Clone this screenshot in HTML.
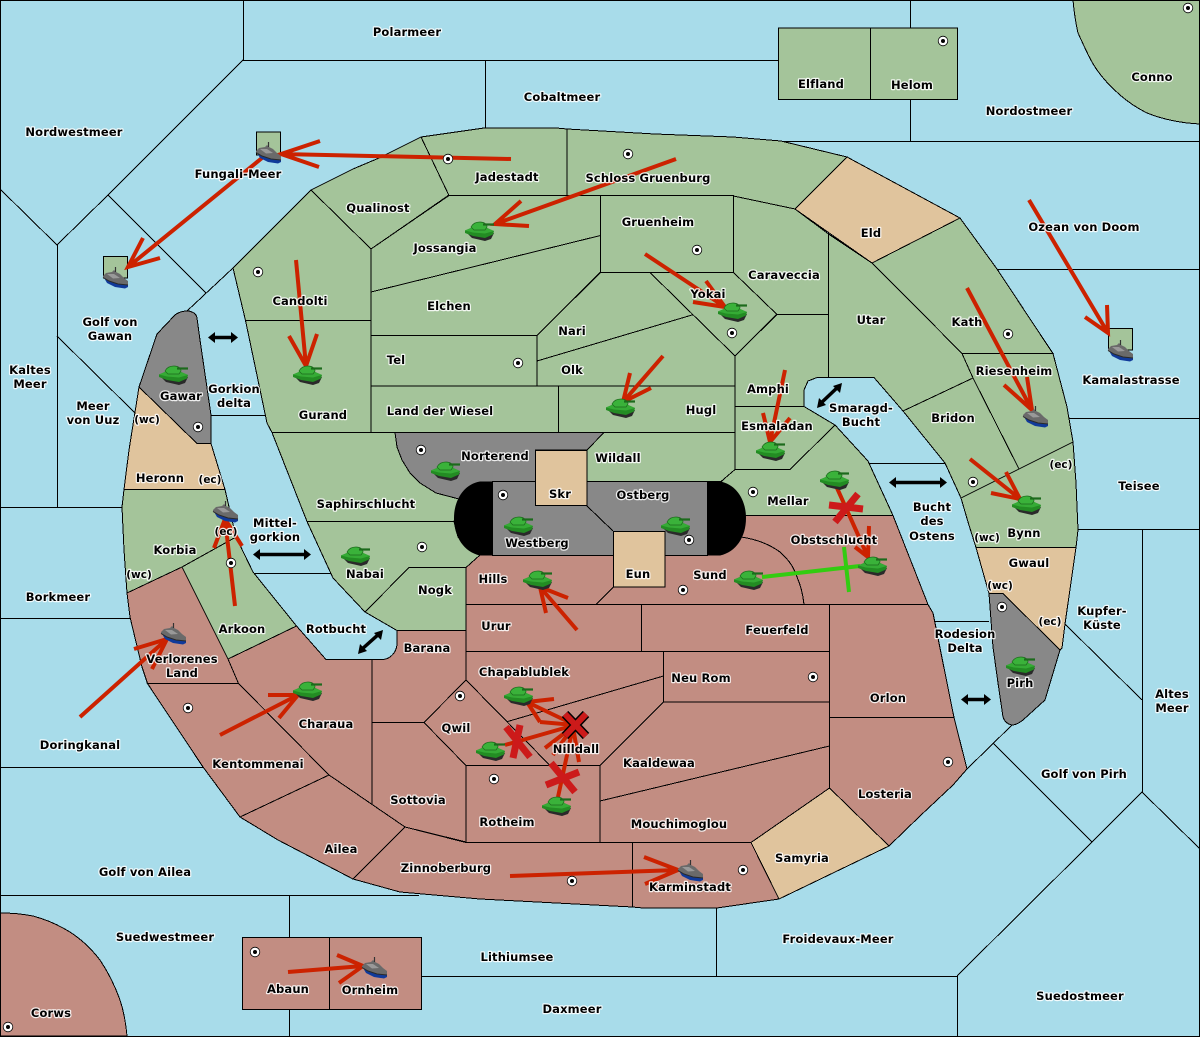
<!DOCTYPE html>
<html><head><meta charset="utf-8"><title>Map</title>
<style>
html,body{margin:0;padding:0;background:#a8dcea}
svg{display:block}
.m polygon,.m path.l{stroke:#000;stroke-width:1;shape-rendering:crispEdges}
.g{fill:#a4c49a}.r{fill:#c28d82}.t{fill:#e0c49d}.y{fill:#888888}
.s line,.s polyline{stroke:#000;stroke-width:1;fill:none;shape-rendering:crispEdges}
.a path{fill:none;stroke:#cc2200;stroke-width:4;stroke-linecap:butt;stroke-linejoin:miter}
.x path{fill:none;stroke:#cc1a1a;stroke-width:7}
.d path{fill:none;stroke:#000;stroke-width:3.5}
text{font-family:"DejaVu Sans","Liberation Sans",sans-serif;font-size:11.5px;fill:#000;text-anchor:middle;letter-spacing:.15px;stroke:#fff;stroke-opacity:.85;stroke-width:2.4px;paint-order:stroke;stroke-linejoin:round;font-weight:700}
text.k{font-size:10.5px;letter-spacing:0}
</style></head><body>
<svg width="1200" height="1037" viewBox="0 0 1200 1037" xmlns="http://www.w3.org/2000/svg">
<defs>
<g id="tk">
<path d="M1,10 L7,16 L20,19 L26,17 L29,11 L20,11Z" fill="#2a2a2a"/>
<path d="M0,8.5 L7,5.5 L21,5.5 L29,9 L28,12.5 L20,16 L8,14 L0,11Z" fill="#238c23"/>
<path d="M0,8.5 L7,5.5 L21,5.5 L29,9 L20,11.5 L8,10.5Z" fill="#35ab35"/>
<path d="M6,5 C8,1 12,0 15,0 C19,0 22,2 22,5 L20,8 L9,8Z" fill="#3ab23a" stroke="#1c6a1c" stroke-width=".7"/>
<path d="M18,2.5 H29" stroke="#1c6a1c" stroke-width="2.2" fill="none"/>
</g>
<g id="sh">
<path d="M0,9 L4,16 L12,20 L22,21.5 L25,20 L25,15Z" fill="#103a9a"/>
<path d="M0,9 L3,6 L9,5 L11,3 L13,5 L17,7 L21,11 L25,14 L25,18 L15,17 L6,14 L0,10.5Z" fill="#6a6a6a"/>
<path d="M4,7 L11,7 L17,11 L10,11.5Z" fill="#999"/>
<path d="M12.5,0 V5" stroke="#333" stroke-width="1.2" fill="none"/>
<path d="M0,10.5 L6,14 L15,17 L25,18" stroke="#2a2a2a" stroke-width="1" fill="none"/>
</g>
<g id="sc">
<circle r="4.8" fill="#fff" stroke="#000" stroke-width=".8"/>
<circle r="2" fill="#000"/>
</g>
</defs>
<rect width="1200" height="1037" fill="#a8dcea"/>
<g class="s">
<line x1="243.5" y1="0" x2="243.5" y2="60.5"/>
<line x1="243" y1="60.5" x2="778" y2="60.5"/>
<polyline points="243,60 108,195 57,245 0,189"/>
<line x1="108" y1="195" x2="206" y2="293"/>
<line x1="233" y1="268" x2="187" y2="311"/>
<line x1="57.5" y1="245" x2="57.5" y2="507"/>
<line x1="57" y1="336" x2="135" y2="413"/>
<line x1="0" y1="507.5" x2="122" y2="507.5"/>
<line x1="0" y1="618.5" x2="131" y2="618.5"/>
<line x1="0" y1="767.5" x2="203" y2="767.5"/>
<line x1="0" y1="895.5" x2="419" y2="895.5"/>
<line x1="289.5" y1="895" x2="289.5" y2="937"/>
<line x1="289.5" y1="1009" x2="289.5" y2="1036"/>
<line x1="421" y1="976.5" x2="957" y2="976.5"/>
<line x1="716.5" y1="908" x2="716.5" y2="976"/>
<line x1="957.5" y1="976" x2="957.5" y2="1036"/>
<line x1="1092" y1="842" x2="957" y2="976"/>
<line x1="993" y1="743" x2="1092" y2="842"/>
<line x1="1012" y1="725" x2="967" y2="769"/>
<line x1="1092" y1="842" x2="1142" y2="792"/>
<line x1="1142" y1="792" x2="1200" y2="849"/>
<line x1="1142.5" y1="529" x2="1142.5" y2="792"/>
<line x1="1065" y1="624" x2="1142" y2="700"/>
<line x1="1078" y1="529.5" x2="1200" y2="529.5"/>
<line x1="1068" y1="418.5" x2="1200" y2="418.5"/>
<line x1="997" y1="269.5" x2="1200" y2="269.5"/>
<line x1="781" y1="141.5" x2="1200" y2="141.5"/>
<line x1="910.5" y1="0" x2="910.5" y2="28"/>
<line x1="910.5" y1="99" x2="910.5" y2="141"/>
<line x1="485.5" y1="60" x2="485.5" y2="128"/>
<line x1="211" y1="415.5" x2="266" y2="415.5"/>
<line x1="254" y1="573.5" x2="331" y2="573.5"/>
<line x1="868" y1="463.5" x2="945" y2="463.5"/>
<line x1="935" y1="621.5" x2="989" y2="621.5"/>
</g>
<g class="m">
<!-- Green -->
<g class="g">
<polygon points="778.5,28 870.5,28 870.5,99.5 778.5,99.5"/>
<polygon points="870.5,28 957.5,28 957.5,99.5 870.5,99.5"/>
<path class="l" d="M1073,0 C1074,12 1076,24 1078,33 C1085,48 1090,60 1097,70 C1104,80 1112,88 1120,95 C1128,102 1137,108 1147,113 C1162,119 1180,123 1200,124 V0Z"/>
<polygon points="233,268 311,190 371,249 371,320.5 245.5,320.5"/>
<polygon points="245.5,320.5 371,320.5 371,432.5 272,432.5 267,423"/>
<polygon points="311,190 353,169 379,158 421,137 449,195 371,249"/>
<polygon points="421,137 484,128 556,128 567,129 567,195.5 449,195.5"/>
<polygon points="567,129 655,134 733,137 781,141 847,157 795,209 733,196 567,195.5"/>
<polygon points="371,249 449,195.5 600.5,195.5 600.5,235.5 371,292"/>
<polygon points="371,292 600.5,235.5 600.5,272 537,335.5 371,335.5"/>
<polygon points="600.5,195.5 733.5,195.5 733.5,272.5 600.5,272.5"/>
<polygon points="600.5,272.5 650,272.5 693,314.7 537,361 537,335.5"/>
<polygon points="537,361 693,314.7 735,356 735,386 537,386"/>
<polygon points="650,272.5 733.5,272.5 777,314 735,356"/>
<polygon points="371,335.5 537,335.5 537,386 371,386"/>
<polygon points="371,386 558.5,386 558.5,432.5 371,432.5"/>
<polygon points="558.5,386 735,386 735,432.5 558.5,432.5"/>
<polygon points="733.5,196 795,209 828.5,234 828.5,314.5 777,314.5 733.5,272.5"/>
<polygon points="735,356 777,314.5 828.5,314.5 828.5,377.5 817,377.5 808,381 804,390 804,406.5 735,406.5"/>
<polygon points="828.5,234 872,263 917,308 962,353 973,378 903,411 874,377.5 828.5,377.5"/>
<polygon points="872,263 960,218 997,269 1044,340 1053,353.5 962,353.5 917,308"/>
<polygon points="962,353.5 1053,353.5 1067,407 1073,442 1019,469 973,378"/>
<polygon points="903,411 945,463 961,498 1019,469 973,378"/>
<polygon points="961,498 1073,442 1076,483 1078,530 1076,547.5 976,547.5 968,522"/>
<polygon points="735,406.5 804,406.5 835,425 790,469.5 735,469.5"/>
<polygon points="734,469.5 790,469.5 835,425 868,461 893,515.5 745,515.5 721,482"/>
<polygon points="604,432.5 735,432.5 735,469.5 721,481.5 587,481.5 587,450"/>
<polygon points="272,432.5 395,432.5 397,447 402,460 410,473 420,483 436,493 459,499 454,521.5 307,521.5"/>
<polygon points="307,521.5 454,521.5 458,537 480,555 466,567.5 409,567.5 365,612 333,578"/>
<polygon points="409,567.5 466,567.5 466,630.5 397,630.5 365,612"/>
<polygon points="124,489.5 225,489.5 236,537 182,567 127,593 124,550 122,507"/>
<polygon points="182,567 236,537 253,572 296.5,626 228,659"/>
</g>
<!-- Tan -->
<g class="t">
<polygon points="795,209 847,157 960,218 872,263"/>
<polygon points="139,387 197,443.5 211,443.5 225,489.5 124,489.5 129,450"/>
<polygon points="976,547.5 1076,547.5 1065,624 1062,648 1060,650 1003,593.5 989,593.5"/>
<polygon points="535.5,450 587,450 587,505.5 535.5,505.5"/>
</g>
<!-- Grey -->
<g class="y">
<path class="l" d="M157,334 L175,315 C180,311 188,310 192,312 C195,313 197,316 197,318 L200,340 L211,415 L211,443.5 L197,443.5 L139,387Z"/>
<path class="l" d="M989,593.5 L1003,593.5 L1060,650 L1045,700 L1023,720 C1018,724 1014,725 1012,725 C1006,724 1004,720 1003,717 L998,683 L993,647Z"/>
<polygon points="395,432.5 604,432.5 587,450 535.5,450 535.5,482 493,482 459,499 436,493 420,483 410,473 402,460 397,447"/>
</g>
<!-- Red -->
<g class="r">
<path class="l" d="M0,913 C12,913 23,914 33,916 C44,919 54,923 63,928 C78,936 90,947 100,960 C108,972 115,986 120,1000 C124,1012 126,1025 127,1036 H0Z"/>
<polygon points="242.5,937.5 329.5,937.5 329.5,1009.5 242.5,1009.5"/>
<polygon points="329.5,937.5 421.5,937.5 421.5,1009.5 329.5,1009.5"/>
<polygon points="127,593 182,567 228,659 238.5,683.5 147.5,683.5 142,667 130,617"/>
<polygon points="147.5,683.5 238.5,683.5 329,775 240,817 203,767"/>
<polygon points="228,659 296.5,626 326,659.5 372,659.5 372,804.4 329,775 238.5,683.5"/>
<polygon points="240,817 329,775 372,804.4 405,827 353,879 278,840"/>
<path class="l" d="M372,659.5 H383 C390,659 396,653 397,645 V630.5 H466 V680 L424,722.5 H372Z"/>
<polygon points="372,722.5 424,722.5 466,765 466,842 405,827 372,804.4"/>
<polygon points="466,680 424,722.5 466,765.5 550,765.5"/>
<polygon points="466,651.5 663.5,651.5 663.5,676 507,721.7 466,680"/>
<polygon points="507,721.7 663.5,676 663.5,702 600,765.5 550,765.5"/>
<polygon points="466,765.5 600,765.5 600,842.5 466,842.5"/>
<polygon points="600,801 829.5,746 829.5,788 751,842.5 600,842.5 600,765.5"/>
<polygon points="600,765.5 663.5,702 829.5,702 829.5,746 600,801"/>
<polygon points="663.5,651.5 829.5,651.5 829.5,702 663.5,702"/>
<polygon points="466,604.5 641.5,604.5 641.5,651.5 466,651.5"/>
<polygon points="641.5,604.5 829.5,604.5 829.5,651.5 641.5,651.5"/>
<polygon points="466,567.5 480,555 613.5,555 613.5,587 596,604.5 466,604.5"/>
<path class="l" d="M596,604.5 L613.5,587 H665 V555 H720 L741,537 C755,539 769,544 780,552 C790,561 794,568 797,577 C801,586 803,595 804,604.5Z"/>
<path class="l" d="M745,515.5 H893 L928,604.5 H804 C803,595 801,586 797,577 C794,568 790,561 780,552 C769,544 755,539 741,537Z"/>
<polygon points="829.5,604.5 928,604.5 933,613 943,663 954,717.5 829.5,717.5"/>
<polygon points="829.5,717.5 954,717.5 967,769 953,785 920,816 889,846 829.5,788"/>
<polygon points="632.5,842.5 751,842.5 779,899 717,908 643,908 632.5,907"/>
<polygon points="405,827 466,842.5 632.5,842.5 632.5,907 480,899 400,892 353,879"/>
<polygon class="t" points="751,842.5 829.5,788 889,846 779,899"/>
</g>
<!-- Central -->
<path d="M493,481.5 H480 C464,484 454,500 454,518 C454,537 464,552 480,555.5 H493Z" fill="#000"/>
<path d="M707,481.5 H720 C736,484 746,500 746,518 C746,537 736,552 720,555.5 H707Z" fill="#000"/>
<polygon class="y" points="492.5,481.5 707.5,481.5 707.5,555.5 492.5,555.5"/>
<line x1="586.5" y1="505.5" x2="613" y2="531" stroke="#000" stroke-width="1" shape-rendering="crispEdges"/>
<polygon class="t" points="535.5,450.5 587,450.5 587,505.5 535.5,505.5"/>
<polygon class="t" points="613.5,531.5 665,531.5 665,587 613.5,587"/>
<!-- small boxes -->
<polygon class="g" points="256.5,132 280.5,132 280.5,155 256.5,155"/>
<polygon class="g" points="103.5,256.5 127.5,256.5 127.5,278 103.5,278"/>
<polygon class="g" points="1108.5,328.5 1132.5,328.5 1132.5,350 1108.5,350"/>
</g>
<rect x=".5" y=".5" width="1199" height="1036" fill="none" stroke="#000" stroke-width="1" shape-rendering="crispEdges"/>

<!-- Double arrows -->
<g class="d">
<path d="M212,337.5H234"/>
<path d="M257,554.5H307"/><path d="M893,482.5H943"/><path d="M965,699.5H987"/>
<path d="M820,404L839,386"/><path d="M361,650L380,633"/>
</g>
<g fill="#000">
<polygon points="208,337.5 215,332 215,343"/><polygon points="238,337.5 231,332 231,343"/>
<polygon points="253,554.5 260,549 260,560"/><polygon points="311,554.5 304,549 304,560"/>
<polygon points="889,482.5 896,477 896,488"/><polygon points="947,482.5 940,477 940,488"/>
<polygon points="961,699.5 968,694 968,705"/><polygon points="991,699.5 984,694 984,705"/>
<polygon points="817,408 819,398 826,405"/><polygon points="842,383 840,393 833,386"/>
<polygon points="358,654 360,644 367,651"/><polygon points="383,630 381,640 374,633"/>
</g>

<!-- Red arrows -->
<g class="a">
<path d="M511,159 L281,154 M320,141 L281,154 L319,167"/>
<path d="M262,158 L128,267 M143,238 L128,267 L160,258"/>
<path d="M296,260 L306,366 M289,336 L306,366 L317,334"/>
<path d="M676,159 L495,224 M521,201 L495,224 L529,226"/>
<path d="M645,254 L725,307 M706,281 L725,307 L693,302"/>
<path d="M663,356 L623,402 M630,373 L623,402 L651,388"/>
<path d="M785,370 L770,442 M763,413 L770,442 L790,418"/>
<path d="M967,288 L1032,410 M1004,385 L1032,410 L1027,377"/>
<path d="M1029,200 L1108,333 M1085,317 L1108,333 L1107,305"/>
<path d="M970,459 L1020,499 M1006,472 L1020,499 L991,493"/>
<path d="M235,606 L225,519 M214,548 L225,519 L242,546"/>
<path d="M80,717 L167,639 M134,649 L167,639 L152,669"/>
<path d="M220,735 L298,695 M268,695 L298,695 L279,718"/>
<path d="M577,630 L540,587 M568,598 L540,587 L546,613"/>
<path d="M837,488 L868,557 M869,526 L868,557 L855,547"/>
<path d="M510,876 L678,870 M644,857 L678,870 L645,884"/>
<path d="M288,972 L363,966 M337,955 L363,966 L339,983"/>
<path d="M575,725 L527,702 M554,699 L527,702 L540,722"/>
<path d="M505,745 L575,725 M540,722 L575,725 L545,748"/>
<path d="M558,797 L573,727 M553,755 L573,727 L579,762"/>
</g>
<!-- Green support -->
<path d="M762,577 L860,566 M844,547 L849,592" fill="none" stroke="#33cc11" stroke-width="4"/>
<!-- Cut marks -->
<g class="x">
<path d="M506,727 L530,757 M520,725 L513,758"/>
<path d="M551,763 L575,792 M546,785 L579,772"/>
<path d="M829,505 L863,509 M858,494 L835,522"/>
</g>
<path d="M565,714 L586,736 M586,714 L565,736" fill="none" stroke="#000" stroke-width="9"/>
<path d="M565,714 L586,736 M586,714 L565,736" fill="none" stroke="#cc1a1a" stroke-width="6"/>

<!-- Supply centres -->
<use href="#sc" x="258" y="272"/><use href="#sc" x="448" y="159"/><use href="#sc" x="628" y="154"/>
<use href="#sc" x="697" y="250"/><use href="#sc" x="732" y="333"/><use href="#sc" x="518" y="363"/>
<use href="#sc" x="421" y="450"/><use href="#sc" x="503" y="495"/><use href="#sc" x="689" y="540"/>
<use href="#sc" x="753" y="492"/><use href="#sc" x="683" y="590"/><use href="#sc" x="422" y="547"/>
<use href="#sc" x="198" y="427"/><use href="#sc" x="231" y="563"/><use href="#sc" x="188" y="708"/>
<use href="#sc" x="460" y="696"/><use href="#sc" x="494" y="779"/><use href="#sc" x="813" y="677"/>
<use href="#sc" x="948" y="762"/><use href="#sc" x="743" y="870"/><use href="#sc" x="572" y="881"/>
<use href="#sc" x="255" y="952"/><use href="#sc" x="8" y="1027"/><use href="#sc" x="1188" y="8"/>
<use href="#sc" x="943" y="41"/><use href="#sc" x="1008" y="334"/><use href="#sc" x="973" y="482"/>
<use href="#sc" x="1002" y="607"/>

<!-- Units -->
<use href="#tk" x="159" y="366"/><use href="#tk" x="293" y="366"/><use href="#tk" x="465" y="222"/>
<use href="#tk" x="718" y="303"/><use href="#tk" x="606" y="399"/><use href="#tk" x="756" y="442"/>
<use href="#tk" x="431" y="462"/><use href="#tk" x="504" y="517"/><use href="#tk" x="661" y="517"/>
<use href="#tk" x="341" y="547"/><use href="#tk" x="523" y="571"/><use href="#tk" x="504" y="687"/>
<use href="#tk" x="476" y="742"/><use href="#tk" x="542" y="797"/><use href="#tk" x="734" y="571"/>
<use href="#tk" x="858" y="557"/><use href="#tk" x="820" y="471"/><use href="#tk" x="1012" y="496"/>
<use href="#tk" x="1006" y="657"/><use href="#tk" x="293" y="682"/>
<use href="#sh" x="256" y="142"/><use href="#sh" x="103" y="267"/><use href="#sh" x="1108" y="340"/>
<use href="#sh" x="1023" y="406"/><use href="#sh" x="213" y="501"/><use href="#sh" x="161" y="623"/>
<use href="#sh" x="678" y="860"/><use href="#sh" x="362" y="957"/>

<!-- Labels -->
<g transform="translate(0,1)">
<text x="407" y="35">Polarmeer</text><text x="562" y="100">Cobaltmeer</text><text x="74" y="135">Nordwestmeer</text>
<text x="1029" y="114">Nordostmeer</text><text x="821" y="87">Elfland</text><text x="912" y="88">Helom</text>
<text x="1152" y="80">Conno</text><text x="238" y="177">Fungali-Meer</text><text x="507" y="180">Jadestadt</text>
<text x="648" y="181">Schloss Gruenburg</text><text x="378" y="211">Qualinost</text><text x="445" y="251">Jossangia</text>
<text x="658" y="225">Gruenheim</text><text x="871" y="236">Eld</text><text x="1084" y="230">Ozean von Doom</text>
<text x="784" y="278">Caraveccia</text><text x="300" y="304">Candolti</text><text x="449" y="309">Elchen</text>
<text x="708" y="297">Yokai</text><text x="110" y="325">Golf von</text><text x="110" y="339">Gawan</text>
<text x="871" y="323">Utar</text><text x="967" y="325">Kath</text><text x="572" y="334">Nari</text>
<text x="396" y="363">Tel</text><text x="572" y="373">Olk</text><text x="1014" y="374">Riesenheim</text>
<text x="30" y="373">Kaltes</text><text x="30" y="387">Meer</text><text x="1131" y="383">Kamalastrasse</text>
<text x="768" y="392">Amphi</text><text x="181" y="399">Gawar</text><text x="234" y="392">Gorkion</text>
<text x="234" y="406">delta</text><text x="93" y="409">Meer</text><text x="93" y="423">von Uuz</text>
<text x="861" y="411">Smaragd-</text><text x="861" y="425">Bucht</text><text x="440" y="414">Land der Wiesel</text>
<text x="701" y="413">Hugl</text><text x="323" y="418">Gurand</text><text x="953" y="421">Bridon</text>
<text class="k" x="147" y="422">(wc)</text><text x="777" y="429">Esmaladan</text><text x="495" y="459">Norterend</text>
<text x="618" y="461">Wildall</text><text class="k" x="1061" y="467">(ec)</text><text x="160" y="481">Heronn</text>
<text class="k" x="210" y="482">(ec)</text><text x="1139" y="489">Teisee</text><text x="643" y="498">Ostberg</text>
<text x="560" y="497">Skr</text><text x="788" y="504">Mellar</text><text x="366" y="507">Saphirschlucht</text>
<text x="932" y="510">Bucht</text><text x="932" y="524">des</text><text x="932" y="539">Ostens</text>
<text x="275" y="526">Mittel-</text><text x="275" y="540">gorkion</text><text class="k" x="226" y="534">(ec)</text>
<text x="1024" y="536">Bynn</text><text class="k" x="987" y="540">(wc)</text><text x="834" y="543">Obstschlucht</text>
<text x="537" y="546">Westberg</text><text x="175" y="553">Korbia</text><text x="1029" y="566">Gwaul</text>
<text x="365" y="577">Nabai</text><text class="k" x="139" y="577">(wc)</text><text x="638" y="577">Eun</text>
<text x="710" y="578">Sund</text><text x="493" y="582">Hills</text><text x="435" y="593">Nogk</text>
<text class="k" x="1000" y="588">(wc)</text><text x="58" y="600">Borkmeer</text><text x="1102" y="614">Kupfer-</text>
<text x="1102" y="628">Küste</text><text class="k" x="1050" y="624">(ec)</text><text x="496" y="629">Urur</text>
<text x="777" y="633">Feuerfeld</text><text x="242" y="632">Arkoon</text><text x="336" y="632">Rotbucht</text>
<text x="965" y="637">Rodesion</text><text x="965" y="651">Delta</text><text x="427" y="651">Barana</text>
<text x="182" y="662">Verlorenes</text><text x="182" y="676">Land</text><text x="524" y="675">Chapablublek</text>
<text x="701" y="681">Neu Rom</text><text x="1020" y="686">Pirh</text><text x="1172" y="697">Altes</text>
<text x="1172" y="711">Meer</text><text x="888" y="701">Orlon</text><text x="326" y="727">Charaua</text>
<text x="456" y="731">Qwil</text><text x="80" y="748">Doringkanal</text><text x="576" y="752">Nilldall</text>
<text x="659" y="766">Kaaldewaa</text><text x="258" y="767">Kentommenai</text><text x="1084" y="777">Golf von Pirh</text>
<text x="885" y="797">Losteria</text><text x="418" y="803">Sottovia</text><text x="507" y="825">Rotheim</text>
<text x="679" y="827">Mouchimoglou</text><text x="341" y="852">Ailea</text><text x="802" y="861">Samyria</text>
<text x="446" y="871">Zinnoberburg</text><text x="145" y="875">Golf von Ailea</text><text x="690" y="890">Karminstadt</text>
<text x="165" y="940">Suedwestmeer</text><text x="838" y="942">Froidevaux-Meer</text><text x="517" y="960">Lithiumsee</text>
<text x="288" y="992">Abaun</text><text x="370" y="993">Ornheim</text><text x="1080" y="999">Suedostmeer</text>
<text x="572" y="1012">Daxmeer</text><text x="51" y="1016">Corws</text>
</g>
</svg>
</body></html>
